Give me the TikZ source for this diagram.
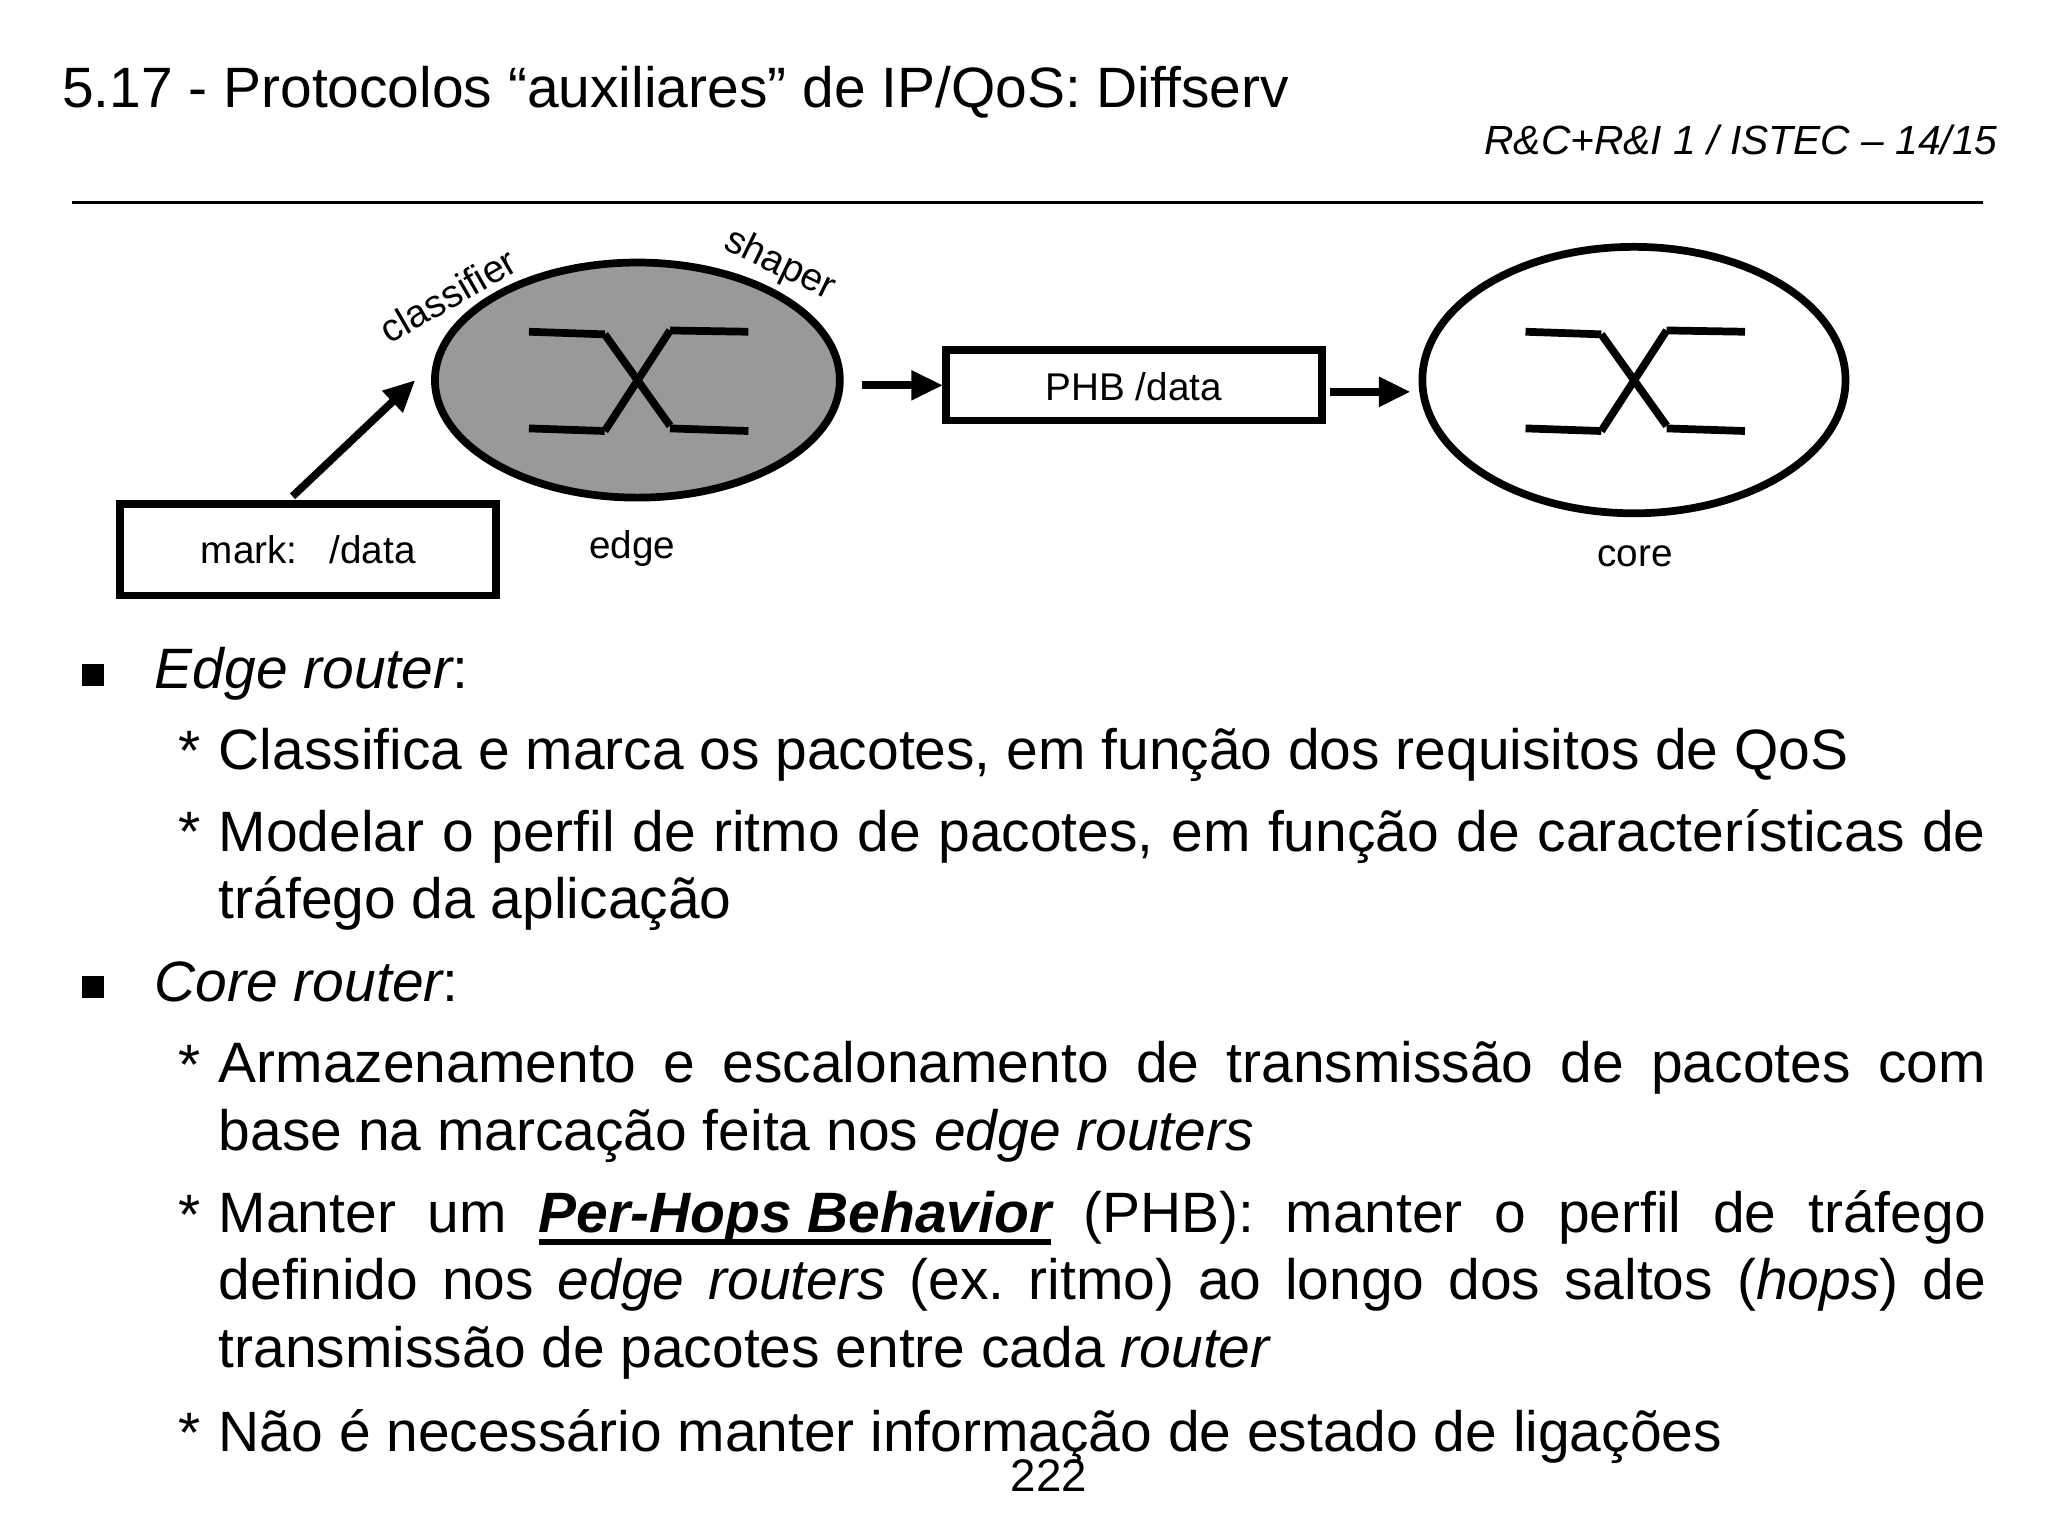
\documentclass[tikz,border=0pt]{standalone}
\usepackage{fontspec}
\setmainfont{Liberation Sans}
\usetikzlibrary{arrows.meta}
\newcommand{\thickul}[1]{\setbox0\hbox{#1}\rlap{\raisebox{-3.5pt}{\rule{\wd0}{1.6pt}}}\box0\relax}
\frenchspacing
\begin{document}
\begin{tikzpicture}[x=0.01306cm,y=-0.01306cm,
  thk/.style={line width=2.2pt},
  arr/.style={line width=2.2pt,-{Triangle[length=9pt,width=8pt]}},
  lbl/.style={font=\fontsize{11}{13}\selectfont},
  body/.style={anchor=north west,inner sep=0pt,text width=17.67cm,align=justify,font=\fontsize{16.2}{19.2}\selectfont}]
\useasboundingbox (0,0) rectangle (1568,1176);
\node[anchor=base west,inner sep=0pt,font=\fontsize{16.2}{18}\selectfont] (title) at (47,82) {5.17 - Protocolos “auxiliares” de IP/QoS: Diffserv};
\node[anchor=base east,inner sep=0pt,font=\fontsize{11.6}{14}\selectfont\itshape] (hdr) at (1530,118) {R\&C+R\&I 1 / ISTEC – 14/15};
\draw[line width=1pt] (55,155) -- (1518,155);
\draw[thk,fill=black!40] (488,291) ellipse [x radius=155,y radius=90];
\draw[thk] (1251,291) ellipse [x radius=162,y radius=102];
\foreach \cx/\cy in {488/291, 1251/291}{
  \draw[thk] (\cx-83,\cy-37) -- (\cx-25,\cy-35);
  \draw[thk] (\cx-25,\cy-35) -- (\cx+25,\cy+35);
  \draw[thk] (\cx+25,\cy+37) -- (\cx+85,\cy+39);
  \draw[thk] (\cx-83,\cy+37) -- (\cx-25,\cy+39);
  \draw[thk] (\cx-25,\cy+39) -- (\cx+25,\cy-38);
  \draw[thk] (\cx+25,\cy-38) -- (\cx+85,\cy-37);
}
\node[lbl] (edgel) at (484,420) {edge};
\node[lbl] (corel) at (1252,426) {core};
\node[lbl,rotate=30] (cls) at (343,226) {classifier};
\node[lbl,rotate=-26] (shp) at (597,203) {shaper};
\draw[thk] (92,386) rectangle (380,456);
\node[lbl] (mkt) at (236,421) {mark:\ \ \ /data};
\draw[thk] (724,268) rectangle (1012,322);
\node[lbl] (phb) at (868,296) {PHB /data};
\coordinate (a1) at (224,380); \coordinate (a2) at (318,291);
\draw[arr] (a1) -- (a2);
\coordinate (b1) at (660,295); \coordinate (b2) at (722,295);
\draw[arr] (b1) -- (b2);
\coordinate (c1) at (1018,300); \coordinate (c2) at (1080,300);
\draw[arr] (c1) -- (c2);
\tikzset{sq/.style={fill=black,minimum size=0.22cm,inner sep=0pt}}
\node[sq] (s1) at (71,517) {};
\node[sq] (s2) at (71,756) {};
\node[anchor=base west,inner sep=0pt,font=\fontsize{16.2}{19.2}\selectfont] (t1) at (118,527) {\itshape Edge router\upshape:};
\node[anchor=base west,inner sep=0pt,font=\fontsize{16.2}{19.2}\selectfont] (t2) at (118,767) {\itshape Core router\upshape:};
\foreach \y in {590,652,830,945,1112}{\node[anchor=base west,inner sep=0pt,font=\fontsize{16.2}{19.2}\selectfont] at (136,\y) {*};}
\node[body] (p1) at (167,557) {Classifica e marca os pacotes, em função dos requisitos de QoS};
\node[body] (p2) at (167,619) {Modelar o perfil de ritmo de pacotes, em função de características de tráfego da aplicação};
\node[body] (p3) at (167,797) {Armazenamento e escalonamento de transmissão de pacotes com base na marcação feita nos \emph{edge routers}};
\node[body] (p4) at (167,911) {Manter um \thickul{\bfseries\itshape Per-Hops Behavior} (PHB): manter o perfil de tráfego definido nos \emph{edge routers} (ex. ritmo) ao longo dos saltos (\emph{hops}) de transmissão de pacotes entre cada \emph{router}};
\node[body] (p5) at (167,1079) {Não é necessário manter informação de estado de ligações};
\node[anchor=base,inner sep=0pt,font=\fontsize{13}{15}\selectfont] (pg) at (803,1142) {222};
\end{tikzpicture}
\end{document}
